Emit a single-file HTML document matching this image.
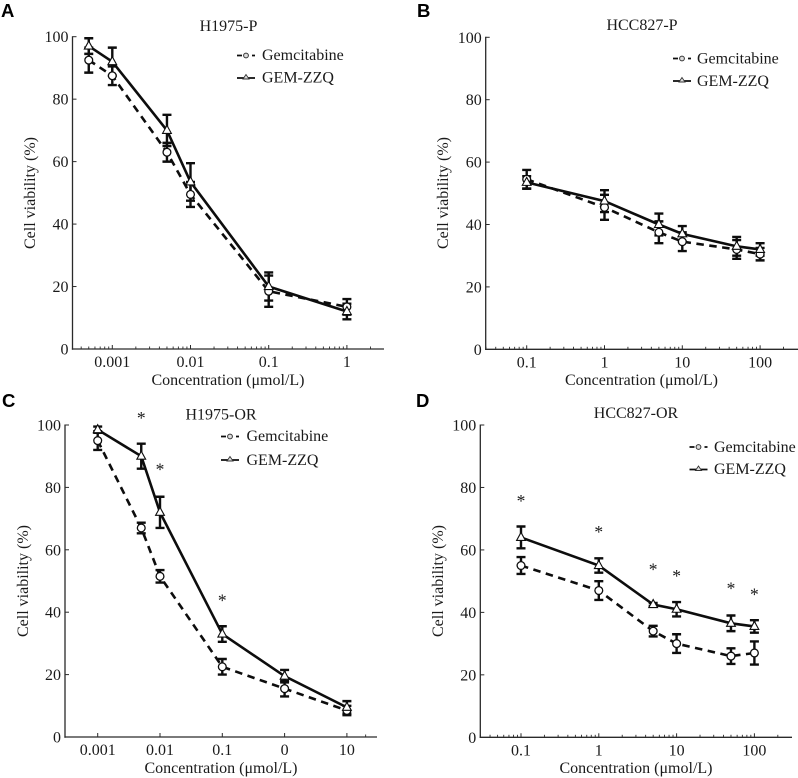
<!DOCTYPE html>
<html>
<head>
<meta charset="utf-8">
<title>Cell viability charts</title>
<style>
html,body{margin:0;padding:0;background:#fff;width:798px;height:778px;overflow:hidden}
svg{display:block;filter:blur(0.35px)}
text{font-family:"Liberation Serif",serif;font-size:16px;fill:#1a1a1a}
.letter{font-family:"Liberation Sans",sans-serif;font-weight:bold;font-size:18.5px;fill:#000}
</style>
</head>
<body>
<svg id="figure" xmlns="http://www.w3.org/2000/svg" width="798" height="778" viewBox="0 0 798 778">
  <rect width="798" height="778" fill="#fff"/>

  <g id="panel-a">
    <text class="letter" x="1" y="17">A</text>
    <text x="228.5" y="31" text-anchor="middle">H1975-P</text>
    <text x="228" y="385" text-anchor="middle">Concentration (μmol/L)</text>
    <text transform="translate(35,193) rotate(-90)" text-anchor="middle">Cell viability (%)</text>
    <text x="262" y="60">Gemcitabine</text>
    <text x="262" y="82.5">GEM-ZZQ</text>
  </g>

  <g id="panel-b">
    <text class="letter" x="417" y="17">B</text>
    <text x="642" y="30" text-anchor="middle">HCC827-P</text>
    <text x="641.5" y="385" text-anchor="middle">Concentration (μmol/L)</text>
    <text transform="translate(448,193) rotate(-90)" text-anchor="middle">Cell viability (%)</text>
    <text x="697" y="63.5">Gemcitabine</text>
    <text x="697" y="86">GEM-ZZQ</text>
  </g>

  <g id="panel-c">
    <text class="letter" x="2" y="407">C</text>
    <text x="221" y="419.5" text-anchor="middle">H1975-OR</text>
    <text x="221" y="773" text-anchor="middle">Concentration (μmol/L)</text>
    <text transform="translate(28,581) rotate(-90)" text-anchor="middle">Cell viability (%)</text>
    <text x="246.5" y="441">Gemcitabine</text>
    <text x="246.5" y="465">GEM-ZZQ</text>
  </g>

  <g id="panel-d">
    <text class="letter" x="416" y="407">D</text>
    <text x="636" y="418" text-anchor="middle">HCC827-OR</text>
    <text x="636" y="773" text-anchor="middle">Concentration (μmol/L)</text>
    <text transform="translate(443,581) rotate(-90)" text-anchor="middle">Cell viability (%)</text>
    <text x="714" y="452">Gemcitabine</text>
    <text x="714" y="474">GEM-ZZQ</text>
  </g>
</svg>

<script>
// Shared axis values
const yTicks = [0, 20, 40, 60, 80, 100];

// Panel A
const aDoses = [0.0005, 0.001, 0.005, 0.01, 0.1, 1];
const aGem = [92.5, 87.5, 63, 49.5, 18.5, 13.5];
const aGemErr = [4, 3, 3, 4, 5, 2.5];
const aZzq = [97, 92, 70, 53.5, 20, 12];
const aZzqErr = [2.5, 4.5, 5, 6, 4.5, 2.5];
const aTickValues = [0.001, 0.01, 0.1, 1];
const aTickLabels = ['0.001', '0.01', '0.1', '1'];
const aStarDoses = [];
const aStarLevels = [];

// Panel B
const bDoses = [0.1, 1, 5, 10, 50, 100];
const bGem = [54.5, 45.5, 37.5, 34.5, 32, 30.5];
const bGemErr = [3, 4, 3.5, 3, 3, 2];
const bZzq = [53.5, 47.5, 40, 37, 33, 32];
const bZzqErr = [2, 3.5, 3.5, 2.5, 3, 2];
const bTickValues = [0.1, 1, 10, 100];
const bTickLabels = ['0.1', '1', '10', '100'];
const bStarDoses = [];
const bStarLevels = [];

// Panel C
const cDoses = [0.001, 0.005, 0.01, 0.1, 1, 10];
const cGem = [95, 67, 51.5, 22.5, 15.5, 8.5];
const cGemErr = [3, 1.7, 2, 2.5, 2.5, 1.5];
const cZzq = [98.5, 90, 72, 33, 19.5, 9.5];
const cZzqErr = [1, 4, 5, 2.5, 2, 2];
const cTickValues = [0.001, 0.01, 0.1, 1, 10];
const cTickLabels = ['0.001', '0.01', '0.1', '0', '10'];
const cMinorValues = [20];
const cStarDoses = [0.005, 0.01, 0.1];
const cStarLevels = [102.5, 86, 44];

// Panel D
const dDoses = [0.1, 1, 5, 10, 50, 100];
const dGem = [55, 47, 34, 30, 26, 27];
const dGemErr = [2.7, 3, 1.7, 3, 2.5, 3.7];
const dZzq = [64, 55, 42.5, 41, 36.5, 35.5];
const dZzqErr = [3.5, 2.3, 0.5, 2.3, 2.5, 2];
const dTickValues = [0.1, 1, 10, 100];
const dTickLabels = ['0.1', '1', '10', '100'];
const dStarDoses = [0.1, 1, 5, 10, 50, 100];
const dStarLevels = [76, 66, 54, 52, 48, 46];

const NS = 'http://www.w3.org/2000/svg';
const INK = '#0d0d0d';
const AXIS = '#2a2a2a';

function make(tag, parent, attrs) {
  const el = document.createElementNS(NS, tag);
  for (const k in attrs) el.setAttribute(k, attrs[k]);
  parent.appendChild(el);
  return el;
}

function logMinorValues(lo, hi) {
  const out = [];
  for (let e = Math.floor(Math.log10(lo)) - 1; e <= Math.ceil(Math.log10(hi)); e++) {
    for (let m = 2; m <= 9; m++) {
      const v = m * Math.pow(10, e);
      if (v >= lo && v <= hi) out.push(v);
    }
  }
  return out;
}

function drawPanel(key, frame, data) {
  const g = document.getElementById('panel-' + key);
  const xScale = v => frame.xRef + frame.decade * (Math.log10(v) - Math.log10(frame.refValue));
  const yScale = v => frame.y0 + (frame.y100 - frame.y0) * v / 100;

  // Axes
  const yAxis = make('line', g, {x1: frame.axisX, x2: frame.axisX, y1: frame.y100 - 0.5, y2: frame.y0 + 0.7, stroke: AXIS, 'stroke-width': 1.3});
  
  
  const xAxis = make('line', g, {x1: frame.axisX - 0.6, x2: frame.axisEnd, y1: frame.y0, y2: frame.y0, stroke: AXIS, 'stroke-width': 1.3});
  
  

  yTicks.forEach(t => {
    const y = yScale(t);
    if (t > 0) {
      const tick = make('line', g, {x1: frame.axisX, x2: frame.axisX + 4, y1: y, y2: y, stroke: AXIS, 'stroke-width': 1});
      
      
    }
    const label = make('text', g, {x: frame.axisX - 4, y: y + 5.5, 'text-anchor': 'end'});
    
    
    label.textContent = t;
  });

  data.tickValues.forEach((t, i) => {
    const x = xScale(t);
    const tick = make('line', g, {x1: x, x2: x, y1: frame.y0, y2: frame.y0 - 4, stroke: AXIS, 'stroke-width': 1});
    
    
    const label = make('text', g, {x: x, y: frame.y0 + 18, 'text-anchor': 'middle'});
    
    
    label.textContent = data.tickLabels[i];
  });

  data.minorValues.forEach(v => {
    const x = xScale(v);
    const tick = make('line', g, {x1: x, x2: x, y1: frame.y0, y2: frame.y0 - 2.5, stroke: AXIS, 'stroke-width': 0.9});
    
    
  });

  // Series lines
  const toPoints = vals => vals.map((v, i) => xScale(data.doses[i]).toFixed(2) + ',' + yScale(v).toFixed(2)).join(' ');
  const gemLine = make('polyline', g, {points: toPoints(data.gem), fill: 'none', stroke: INK, 'stroke-width': 2.6, 'stroke-dasharray': '7.5 5.5'});
  
  
  const zzqLine = make('polyline', g, {points: toPoints(data.zzq), fill: 'none', stroke: INK, 'stroke-width': 2.6});
  
  

  // Error bars
  const drawErrors = (vals, errs, series) => {
    vals.forEach((v, i) => {
      const x = xScale(data.doses[i]);
      const hi = yScale(v + errs[i]);
      const lo = yScale(v - errs[i]);
      const d = 'M' + x + ' ' + hi + 'V' + lo + 'M' + (x - 4.5) + ' ' + hi + 'H' + (x + 4.5) + 'M' + (x - 4.5) + ' ' + lo + 'H' + (x + 4.5);
      const bar = make('path', g, {d: d, fill: 'none', stroke: INK, 'stroke-width': 2.4});
      
      
    });
  };
  drawErrors(data.gem, data.gemErr, 'gemcitabine');
  drawErrors(data.zzq, data.zzqErr, 'gem-zzq');

  // Markers
  data.gem.forEach((v, i) => {
    const c = make('circle', g, {cx: xScale(data.doses[i]), cy: yScale(v), r: 3.9, fill: '#fff', stroke: INK, 'stroke-width': 1.3});
    
    
  });
  data.zzq.forEach((v, i) => {
    const x = xScale(data.doses[i]);
    const y = yScale(v);
    const t = make('polygon', g, {points: x + ',' + (y - 5) + ' ' + (x - 4.4) + ',' + (y + 3) + ' ' + (x + 4.4) + ',' + (y + 3), fill: '#fff', stroke: INK, 'stroke-width': 1.1});
    
    
  });

  // Significance stars
  data.starDoses.forEach((d, i) => {
    const s = make('text', g, {x: xScale(d), y: yScale(data.starLevels[i]) + 7, 'text-anchor': 'middle', style: 'font-size:17.5px'});
    
    
    s.textContent = '*';
  });

  // Legend swatches
  const lx = frame.legendX;
  const d1 = make('path', g, {d: 'M' + lx + ' ' + frame.legendY1 + 'h5M' + (lx + 7.5) + ' ' + frame.legendY1 + 'h3M' + (lx + 15) + ' ' + frame.legendY1 + 'h3', stroke: INK, 'stroke-width': 1.8, fill: 'none'});
  
  
  const c1 = make('circle', g, {cx: lx + 9, cy: frame.legendY1, r: 2.4, fill: '#ddd', stroke: '#333', 'stroke-width': 1});
  
  
  const d2 = make('line', g, {x1: lx, x2: lx + 18, y1: frame.legendY2, y2: frame.legendY2, stroke: INK, 'stroke-width': 1.8});
  
  
  const t2 = make('polygon', g, {points: (lx + 9) + ',' + (frame.legendY2 - 3.5) + ' ' + (lx + 6) + ',' + (frame.legendY2 + 1) + ' ' + (lx + 12) + ',' + (frame.legendY2 + 1), fill: '#ddd', stroke: '#333', 'stroke-width': 0.9});
  
  
}

drawPanel('a',
  {axisX: 72.5, axisEnd: 384, y0: 349, y100: 36.7, xRef: 112.3, refValue: 0.001, decade: 78.2, legendX: 237, legendY1: 55.5, legendY2: 78},
  {doses: aDoses, gem: aGem, gemErr: aGemErr, zzq: aZzq, zzqErr: aZzqErr, tickValues: aTickValues, tickLabels: aTickLabels,
   minorValues: logMinorValues(0.00031, 2.9), starDoses: aStarDoses, starLevels: aStarLevels});

drawPanel('b',
  {axisX: 485.7, axisEnd: 798, y0: 349.3, y100: 37.3, xRef: 526.7, refValue: 0.1, decade: 77.8, legendX: 673, legendY1: 58.5, legendY2: 81},
  {doses: bDoses, gem: bGem, gemErr: bGemErr, zzq: bZzq, zzqErr: bZzqErr, tickValues: bTickValues, tickLabels: bTickLabels,
   minorValues: logMinorValues(0.03, 290), starDoses: bStarDoses, starLevels: bStarLevels});

drawPanel('c',
  {axisX: 65, axisEnd: 377, y0: 737, y100: 425, xRef: 97.7, refValue: 0.001, decade: 62.3, legendX: 221, legendY1: 436.5, legendY2: 460},
  {doses: cDoses, gem: cGem, gemErr: cGemErr, zzq: cZzq, zzqErr: cZzqErr, tickValues: cTickValues, tickLabels: cTickLabels,
   minorValues: cMinorValues, starDoses: cStarDoses, starLevels: cStarLevels});

drawPanel('d',
  {axisX: 480.3, axisEnd: 792, y0: 737.3, y100: 425, xRef: 521, refValue: 0.1, decade: 77.8, legendX: 689.5, legendY1: 447, legendY2: 469.5},
  {doses: dDoses, gem: dGem, gemErr: dGemErr, zzq: dZzq, zzqErr: dZzqErr, tickValues: dTickValues, tickLabels: dTickLabels,
   minorValues: logMinorValues(0.03, 290), starDoses: dStarDoses, starLevels: dStarLevels});
</script>
</body>
</html>
